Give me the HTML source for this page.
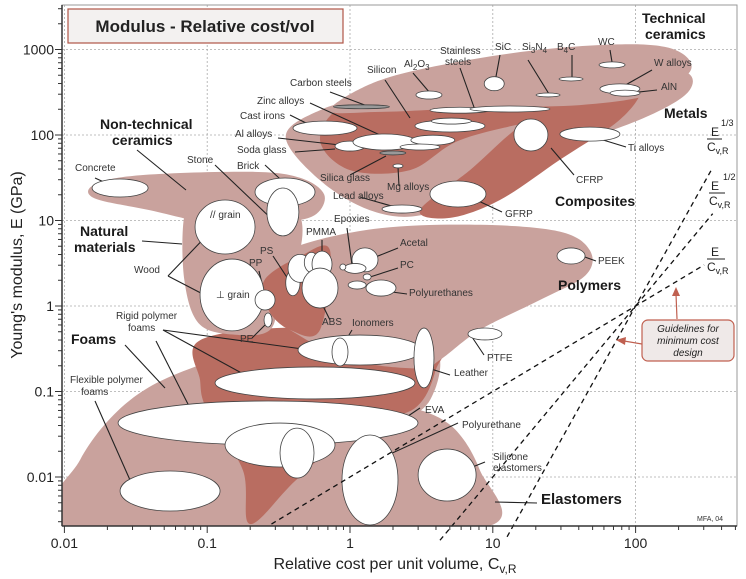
<!DOCTYPE html>
<html><head><meta charset="utf-8"><style>
html,body{margin:0;padding:0;background:#fff;}
svg{display:block;font-family:"Liberation Sans",sans-serif;}
</style></head><body>
<svg id="chart" width="746" height="579" viewBox="0 0 746 579" xmlns="http://www.w3.org/2000/svg">
<g id="grid"></g>
<g id="env"></g>
<g id="leaders" stroke="#222" stroke-width="1.1"></g>
<g id="bub"></g>
<g id="guides"></g>
<g id="axes"></g>
<g id="labels"></g>
</svg>
<script>
const xTickVals = [0.01, 0.1, 1, 10, 100];
const xTickLabels = ["0.01", "0.1", "1", "10", "100"];
const yTickVals = [0.01, 0.1, 1, 10, 100, 1000];
const yTickLabels = ["0.01", "0.1", "1", "10", "100", "1000"];
const guideExponents = [1, 2, 3];
const guidePivot = [2.0, 0.0];
const guideStart = [-0.55, 0.63, 1.10];
const guideEnd = [2.48, 2.54, 2.54];
const bubbleNames = ["concrete","grain-parallel","brick","brick-2","stone","grain-perp","pp","pe","ps","polymer-2","polymer-3","pmma","abs","acetal","epoxies","epoxy-2","pc","pu-2","polyurethanes","peek","ptfe","rigid-foam-1","ionomers","leather","rigid-foam-2","big-foam","flexible-foam","eva","polyurethane-el","big-elastomer","silicone","carbon-steels","cast-irons","al-alloys","metal-1","metal-2","metal-3","silicon","silicon-2","al2o3","stainless","stainless-2","sic","si3n4","b4c","wc","w-alloys","aln","cfrp","ti-alloys","mg-alloys","lead-alloys","gfrp","silica-glass"];
const bubbleC = [-1.61,-0.875,-0.455,-0.47,-0.47,-0.826,-0.595,-0.574,-0.40,-0.35,-0.27,-0.196,-0.21,0.105,0.035,-0.05,0.12,0.05,0.217,1.548,0.945,0.07,-0.07,0.518,-0.245,-0.574,-1.26,-0.49,-0.371,0.14,0.68,0.08,-0.175,0,0.245,0.58,0.49,0.70,0.71,0.553,0.77,1.12,1.01,1.387,1.548,1.835,1.89,1.926,1.267,1.68,0.336,0.364,0.756,0.30];
const bubbleE = [1.38,0.924,1.333,1.24,1.10,0.129,0.07,-0.164,0.27,0.44,0.51,0.49,0.21,0.54,0.44,0.456,0.34,0.245,0.21,0.585,-0.327,-0.515,-0.538,-0.608,-0.90,-1.368,-2.164,-1.626,-1.72,-2.035,-1.977,2.33,2.08,1.87,1.918,1.94,1.86,2.105,2.163,2.468,2.29,2.304,2.60,2.468,2.655,2.82,2.54,2.49,2.0,2.01,1.638,1.134,1.31,1.79];
const bubbleRx = [.196,.21,.21,.09,.112,.224,.07,.028,.05,.084,.05,.07,.126,.091,.077,.021,.028,.063,.105,.098,.119,.434,.056,.07,.70,1.05,.35,.385,.119,.196,.203,.196,.224,.105,.224,.154,.14,.245,.14,.091,.21,.28,.07,.084,.084,.091,.14,.105,.119,.21,.035,.14,.196,.091];
const bubbleRy = [.105,.316,.164,.07,.28,.42,.117,.082,.15,.164,.117,.152,.234,.14,.058,.035,.035,.047,.094,.094,.07,.175,.164,.35,.187,.257,.234,.257,.292,.526,.304,.023,.082,.058,.094,.058,.035,.07,.035,.047,.035,.035,.082,.023,.023,.035,.058,.035,.187,.082,.023,.047,.152,.023];
const greyBubbles = ["carbon-steels","silica-glass"];
const envNames = ["foams","elastomers","foam-dark","natural","nontech","polymers","polymer-dark","metals","metals-dark","composites","tech-ceramics"];
const envFill = ["#c9a29d","#c9a29d","#b96d61","#c9a29d","#c9a29d","#c9a29d","#b96d61","#c9a29d","#b96d61","#b96d61","#c9a29d"];
const envPts = [
 [[-2.0,-2.57],[-1.89,-1.80],[-1.54,-1.10],[-1.05,-0.69],[-0.35,-0.40],[0.49,-0.34],[0.63,-0.63],[0.56,-1.10],[0.35,-1.45],[0,-2.27],[-0.14,-2.57]],
 [[-0.14,-1.10],[0.35,-1.16],[0.70,-1.39],[0.91,-1.92],[0.98,-2.57],[-0.35,-2.57],[-0.28,-1.80]],
 [[-1.05,-0.40],[-0.35,-0.25],[0.60,-0.36],[0.60,-0.75],[0.45,-1.20],[0.05,-1.42],[-0.38,-2.04],[-0.70,-2.55],[-0.75,-1.92],[-1.00,-1.22],[-1.05,-0.87]],
 [[-1.16,1.06],[-1.05,1.24],[-0.49,1.24],[-0.35,1.06],[-0.35,0.65],[-0.49,0.07],[-0.56,-0.28],[-0.77,-0.34],[-1.05,-0.22],[-1.16,0.30]],
 [[-1.79,1.42],[-1.47,1.53],[-0.70,1.57],[-0.35,1.50],[-0.18,1.30],[-0.25,1.06],[-0.49,0.98],[-0.91,0.95],[-1.40,1.12],[-1.79,1.26]],
 [[-0.63,0.42],[-0.35,0.71],[0.21,0.91],[0.91,0.95],[1.47,0.87],[1.68,0.65],[1.65,0.36],[1.33,0.07],[0.91,-0.28],[0.63,-0.63],[0.49,-0.73],[0,-0.63],[-0.42,-0.28],[-0.56,-0.05]],
 [[-0.60,0.30],[-0.35,0.58],[-0.14,0.65],[-0.21,-0.28],[-0.42,-0.28],[-0.57,-0.05]],
 [[-0.45,1.98],[-0.21,2.29],[0.21,2.47],[0.91,2.64],[1.75,2.76],[2.31,2.76],[2.38,2.53],[2.10,2.23],[1.47,1.82],[0.91,1.36],[0.49,1.06],[0.14,1.12],[-0.21,1.47]],
 [[-0.21,1.94],[-0.04,2.35],[0.49,2.53],[1.19,2.64],[1.75,2.67],[2.10,2.58],[1.96,2.41],[1.33,2.18],[0.77,1.94],[0.42,1.59],[0,1.59]],
 [[0.49,1.12],[0.84,1.59],[1.26,2.18],[1.75,2.47],[2.03,2.53],[1.89,2.18],[1.47,1.71],[1.05,1.24],[0.70,1.03]],
 [[-0.14,2.29],[0.21,2.64],[0.84,2.88],[1.47,3.02],[2.03,3.06],[2.31,2.97],[2.38,2.74],[2.10,2.47],[1.61,2.35],[0.91,2.32],[0.21,2.27]]
];
const X0=350, DX=142.8, Y0=306, DY=85.5;
const L=62, R=737, T=5, B=526;
function sx(lc){return X0+lc*DX;}
function sy(le){return Y0-le*DY;}
const NS="http://www.w3.org/2000/svg";
function mk(tag,attrs,parent){const e=document.createElementNS(NS,tag);for(const k in attrs)e.setAttribute(k,attrs[k]);parent.appendChild(e);return e;}
const grid=document.getElementById('grid'),env=document.getElementById('env'),bub=document.getElementById('bub'),axes=document.getElementById('axes'),guides=document.getElementById('guides'),labels=document.getElementById('labels'),leaders=document.getElementById('leaders');
let fr=mk('rect',{x:L,y:T,width:R-L,height:B-T,fill:'none',stroke:'#999','stroke-width':1},axes);


xTickVals.forEach((v,i)=>{const x=sx(Math.log10(v));
 let g=mk('line',{x1:x,y1:T,x2:x,y2:B,stroke:'#aaa','stroke-dasharray':'2,2','stroke-width':0.8},grid);
 
 
 let t=mk('text',{x:x,y:B+22,'text-anchor':'middle','font-size':14,fill:'#222'},axes);t.textContent=xTickLabels[i];
 
 });
yTickVals.forEach((v,i)=>{const y=sy(Math.log10(v));
 let g=mk('line',{x1:L,y1:y,x2:R,y2:y,stroke:'#aaa','stroke-dasharray':'2,2','stroke-width':0.8},grid);
 
 
 let t=mk('text',{x:L-8,y:y+5,'text-anchor':'end','font-size':14,fill:'#222'},axes);t.textContent=yTickLabels[i];
 
 });
for(let d=-2;d<3;d++)for(let m=1;m<10;m++){const lc=d+Math.log10(m);const x=sx(lc);if(x>R)break;
 let tk=mk('line',{x1:x,y1:B,x2:x,y2:B+(m==1?7:4),stroke:'#333','stroke-width':1},axes);
 
 }
for(let d=-3;d<4;d++)for(let m=1;m<10;m++){const le=d+Math.log10(m);const y=sy(le);if(y<T||y>B)continue;
 let tk=mk('line',{x1:L,y1:y,x2:L-(m==1?7:4),y2:y,stroke:'#333','stroke-width':1},axes);
 
 }
let ax1=mk('line',{x1:L,y1:T,x2:L,y2:B,stroke:'#333','stroke-width':1.5},axes);


let ax2=mk('line',{x1:L,y1:B,x2:R,y2:B,stroke:'#333','stroke-width':1.5},axes);


function smooth(pts){const n=pts.length;let d='';const P=pts.map(p=>[sx(p[0]),sy(p[1])]);
 d+='M'+P[0][0]+','+P[0][1];
 for(let i=0;i<n;i++){const p0=P[(i-1+n)%n],p1=P[i],p2=P[(i+1)%n],p3=P[(i+2)%n];
  const c1=[p1[0]+(p2[0]-p0[0])/6,p1[1]+(p2[1]-p0[1])/6],c2=[p2[0]-(p3[0]-p1[0])/6,p2[1]-(p3[1]-p1[1])/6];
  d+=' C'+c1[0].toFixed(1)+','+c1[1].toFixed(1)+' '+c2[0].toFixed(1)+','+c2[1].toFixed(1)+' '+p2[0].toFixed(1)+','+p2[1].toFixed(1);}
 return d+'Z';}
const clip=mk('clipPath',{id:'pc'},document.getElementById('chart'));mk('rect',{x:L,y:T,width:R-L,height:B-T},clip);
env.setAttribute('clip-path','url(#pc)');
envNames.forEach((n,i)=>{let p=mk('path',{d:smooth(envPts[i]),fill:envFill[i]},env);
 
 });
bubbleNames.forEach((n,i)=>{const g=greyBubbles.includes(n);
 let e=mk('ellipse',{cx:sx(bubbleC[i]),cy:sy(bubbleE[i]),rx:bubbleRx[i]*DX,ry:bubbleRy[i]*DY,fill:g?'#999':'#fff',stroke:'#444','stroke-width':0.8},bub);
 
 });
guideExponents.forEach((k,i)=>{const x1=guideStart[i],x2=guideEnd[i];
 const y1=guidePivot[1]+k*(x1-guidePivot[0]),y2=guidePivot[1]+k*(x2-guidePivot[0]);
 let l=mk('line',{x1:sx(x1),y1:sy(y1),x2:sx(x2),y2:sy(y2),stroke:'#111','stroke-width':1.3,'stroke-dasharray':'5,4'},guides);
 
 });
const leaderLines=[[95,178,128,193],[137,150,186,190],[215,165,278,225],[265,165,292,190],[330,92,370,107],[310,103,380,135],[290,115,310,125],[278,138,340,145],[295,152,335,149],[350,175,386,156],[360,197,402,209],[399,186,398,167],[385,80,410,118],[413,73,430,93],[460,68,475,110],[500,55,495,82],[528,60,549,94],[572,55,572,78],[610,50,612,62],[652,70,622,87],[657,90,630,93],[626,147,590,136],[574,175,551,148],[502,212,470,197],[347,228,352,265],[322,240,322,262],[273,256,292,285],[259,271,266,300],[252,338,268,322],[398,248,373,258],[398,268,370,277],[407,294,392,292],[596,261,582,256],[484,355,472,337],[330,320,320,300],[352,330,340,350],[450,375,428,368],[168,276,213,229],[168,276,222,304],[163,330,310,350],[163,330,258,382],[156,341,192,412],[125,345,165,388],[95,401,130,480],[420,408,365,445],[458,423,377,460],[485,462,465,470],[537,503,495,502],[142,241,182,244]];
leaderLines.forEach(a=>{let l=mk('line',{x1:a[0],y1:a[1],x2:a[2],y2:a[3]},leaders);
 
 });
const smallLabels=[["Concrete",75,171],["Stone",187,163],["Brick",237,169],["Carbon steels",290,86],["Zinc alloys",257,104],["Cast irons",240,119],["Al alloys",235,137],["Soda glass",237,153],["Silica glass",320,181],["Lead alloys",333,199],["Mg alloys",387,190],["Silicon",367,73],["Stainless",440,54],["steels",445,65],["SiC",495,50],["WC",598,45],["W alloys",654,66],["AlN",661,90],["Ti alloys",628,151],["CFRP",576,183],["GFRP",505,217],["Epoxies",334,222],["PMMA",306,235],["PS",260,254],["PP",249,266],["Acetal",400,246],["PC",400,268],["Polyurethanes",409,296],["PEEK",598,264],["PTFE",487,361],["ABS",322,325],["Ionomers",352,326],["Leather",454,376],["Wood",134,273],["// grain",210,218],["⊥ grain",216,298],["PE",240,342],["Rigid polymer",116,319],["foams",128,331],["Flexible polymer",70,383],["foams",81,395],["EVA",425,413],["Polyurethane",462,428],["Silicone",493,460],["elastomers",493,471]];
smallLabels.forEach(a=>{let t=mk('text',{x:a[1],y:a[2],'font-size':10,fill:'#333'},labels);t.textContent=a[0];
 
 });
const subLabels=[["Al","2","O","3",404,67],["Si","3","N","4",522,50],["B","4","C","",557,50]];
subLabels.forEach(a=>{let t=mk('text',{x:a[4],y:a[5],'font-size':10,fill:'#333'},labels);
 t.innerHTML=a[0]+'<tspan font-size="8" dy="3">'+a[1]+'</tspan><tspan dy="-3">'+a[2]+'</tspan><tspan font-size="8" dy="3">'+a[3]+'</tspan>';
 
 });
const bigLabels=[["Technical",642,23,14],["ceramics",645,39,14],["Metals",664,118,14],["Non-technical",100,129,14],["ceramics",112,145,14],["Composites",555,206,14],["Natural",80,236,14],["materials",74,252,14],["Polymers",558,290,14],["Foams",71,344,14],["Elastomers",541,504,15]];
bigLabels.forEach(a=>{let t=mk('text',{x:a[1],y:a[2],'font-size':a[3],'font-weight':'bold',fill:'#1a1a1a'},labels);t.textContent=a[0];
 
 });
</script>
<svg style="position:absolute;left:0;top:0" width="746" height="579" font-family="Liberation Sans, sans-serif">
 <g>
  <rect x="68" y="9" width="275" height="34" fill="#f3f1f0" stroke="#b05546" stroke-width="1.2"/>
  <text x="205" y="32" text-anchor="middle" font-size="17" font-weight="bold" fill="#222">Modulus - Relative cost/vol</text>
 </g>
 <g font-size="12" fill="#222">
  <text x="711" y="136">E</text><text x="721" y="126" font-size="9">1/3</text><line x1="707" y1="139" x2="722" y2="139" stroke="#222"/><text x="707" y="151">C<tspan font-size="9" dy="3">v,R</tspan></text>
  <text x="711" y="190">E</text><text x="723" y="180" font-size="9">1/2</text><line x1="709" y1="193" x2="725" y2="193" stroke="#222"/><text x="709" y="205">C<tspan font-size="9" dy="3">v,R</tspan></text>
  <text x="711" y="256">E</text><line x1="707" y1="259" x2="725" y2="259" stroke="#222"/><text x="707" y="271">C<tspan font-size="9" dy="3">v,R</tspan></text>
 </g>
 <g>
  <rect x="642" y="320" width="92" height="41" rx="6" fill="#efe9e8" stroke="#c06050" stroke-width="1.2"/>
  <text x="688" y="332" text-anchor="middle" font-size="10" font-style="italic" fill="#222">Guidelines for</text>
  <text x="688" y="344" text-anchor="middle" font-size="10" font-style="italic" fill="#222">minimum cost</text>
  <text x="688" y="356" text-anchor="middle" font-size="10" font-style="italic" fill="#222">design</text>
  <line x1="677" y1="319" x2="676" y2="294" stroke="#c06050" stroke-width="1.2"/><polygon points="672,296 680,296 676,287" fill="#c06050"/>
  <line x1="642" y1="344" x2="624" y2="341" stroke="#c06050" stroke-width="1.2"/><polygon points="626,337 625,345 616,340" fill="#c06050"/>
 </g>
 <text x="697" y="521" font-size="7" fill="#333">MFA, 04</text>
 <text x="395" y="569" text-anchor="middle" font-size="16" fill="#222">Relative cost per unit volume, C<tspan font-size="12" dy="4">v,R</tspan></text>
 <text transform="translate(22,265) rotate(-90)" text-anchor="middle" font-size="16" fill="#222">Young's modulus, E (GPa)</text>
</svg>
</body></html>
